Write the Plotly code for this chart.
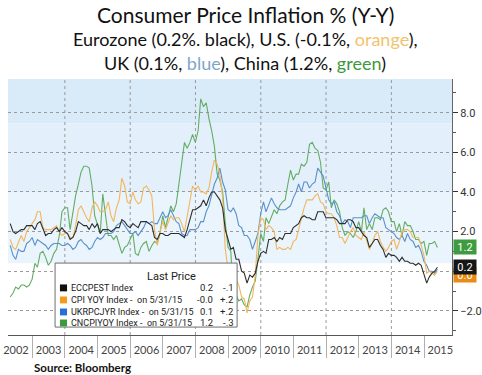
import pandas as pd
import plotly.graph_objects as go

# ---------------- data (monthly, Apr 2002 - May 2015) ----------------
start_month = "2002-04-30"
end_month = "2015-05-31"

eurozone = [2.4, 2.0, 1.9, 2.0, 2.1, 2.1, 2.3, 2.3, 2.3,
            2.1, 2.4, 2.5, 2.1, 1.8, 1.9, 1.9, 2.1, 2.2, 2.0, 2.2, 2.0,
            1.9, 1.6, 1.7, 2.0, 2.5, 2.4, 2.3, 2.3, 2.1, 2.4, 2.2, 2.4,
            1.9, 2.1, 2.1, 2.1, 2.0, 2.1, 2.2, 2.2, 2.6, 2.5, 2.3, 2.2,
            2.4, 2.3, 2.2, 2.5, 2.5, 2.5, 2.4, 2.3, 1.7, 1.6, 1.9, 1.9,
            1.8, 1.8, 1.9, 1.9, 1.9, 1.9, 1.8, 1.7, 2.1, 2.6, 3.1, 3.1,
            3.2, 3.3, 3.6, 3.3, 3.7, 4.0, 4.0, 3.8, 3.6, 3.2, 2.1, 1.6,
            1.1, 1.2, 0.6, 0.6, 0.0, -0.1, -0.6, -0.2, -0.3, -0.1, 0.5, 0.9,
            1.0, 0.9, 1.6, 1.6, 1.7, 1.5, 1.7, 1.6, 1.9, 1.9, 1.9, 2.2,
            2.3, 2.4, 2.7, 2.8, 2.7, 2.7, 2.6, 2.6, 3.0, 3.0, 3.0, 2.7,
            2.7, 2.7, 2.7, 2.6, 2.4, 2.4, 2.4, 2.6, 2.6, 2.5, 2.2, 2.2,
            2.0, 1.8, 1.7, 1.2, 1.4, 1.6, 1.6, 1.3, 1.1, 0.7, 0.9, 0.8,
            0.8, 0.7, 0.5, 0.7, 0.5, 0.5, 0.4, 0.4, 0.3, 0.4, 0.3, -0.2,
            -0.6, -0.3, -0.1, 0.0, 0.2]

us = [1.6, 1.2, 1.1, 1.5, 1.8, 1.5, 2.0, 2.2, 2.4,
      2.6, 3.0, 3.0, 2.2, 2.1, 2.1, 2.1, 2.2, 2.3, 2.0, 1.8, 1.9,
      1.9, 1.7, 1.7, 2.3, 3.1, 3.3, 3.0, 2.7, 2.5, 3.2, 3.5, 3.3,
      3.0, 3.0, 3.1, 3.5, 2.8, 2.5, 3.2, 3.6, 4.7, 4.3, 3.5, 3.4,
      4.0, 3.6, 3.4, 3.5, 4.2, 4.3, 4.1, 3.8, 2.1, 1.3, 2.0, 2.5,
      2.1, 2.4, 2.8, 2.6, 2.7, 2.7, 2.4, 2.0, 2.8, 3.5, 4.3, 4.1,
      4.3, 4.0, 4.0, 3.9, 4.2, 5.0, 5.6, 5.4, 4.9, 3.7, 1.1, 0.1,
      0.0, 0.2, -0.4, -0.7, -1.3, -1.4, -2.1, -1.5, -1.3, -0.2, 1.8, 2.7,
      2.6, 2.1, 2.3, 2.2, 2.0, 1.1, 1.2, 1.1, 1.1, 1.2, 1.1, 1.5,
      1.6, 2.1, 2.7, 3.2, 3.6, 3.6, 3.6, 3.8, 3.9, 3.5, 3.4, 3.0,
      2.9, 2.9, 2.7, 2.3, 1.7, 1.7, 1.4, 1.7, 2.0, 2.2, 1.8, 1.7,
      1.6, 2.0, 1.5, 1.1, 1.4, 1.8, 2.0, 1.5, 1.2, 1.0, 1.2, 1.5,
      1.6, 1.1, 1.5, 2.0, 2.1, 2.1, 2.0, 1.7, 1.7, 1.7, 1.3, 0.8,
      -0.1, 0.0, -0.1, -0.2, 0.0]

uk = [1.3, 0.8, 0.6, 1.1, 1.0, 1.0, 1.4, 1.5, 1.7,
      1.3, 1.6, 1.5, 1.4, 1.3, 1.1, 1.3, 1.4, 1.4, 1.4, 1.3, 1.3,
      1.4, 1.3, 1.1, 1.2, 1.5, 1.6, 1.4, 1.3, 1.1, 1.2, 1.5, 1.7,
      1.6, 1.7, 1.9, 1.9, 1.9, 2.0, 2.3, 2.4, 2.5, 2.3, 2.1, 1.9,
      1.9, 2.0, 1.8, 2.0, 2.2, 2.5, 2.4, 2.5, 2.4, 2.4, 2.7, 3.0,
      2.7, 2.8, 3.1, 2.8, 2.5, 2.4, 1.9, 1.8, 1.8, 2.1, 2.1, 2.1,
      2.2, 2.5, 2.5, 3.0, 3.3, 3.8, 4.4, 4.7, 5.2, 4.5, 4.1, 3.1,
      3.0, 3.2, 2.9, 2.3, 2.2, 1.8, 1.8, 1.6, 1.1, 1.5, 1.9, 2.9,
      3.5, 3.0, 3.4, 3.7, 3.4, 3.2, 3.1, 3.1, 3.1, 3.2, 3.3, 3.7,
      4.0, 4.4, 4.0, 4.5, 4.5, 4.2, 4.4, 4.5, 5.2, 5.0, 4.8, 4.2,
      3.6, 3.4, 3.5, 3.0, 2.8, 2.4, 2.6, 2.5, 2.2, 2.7, 2.7, 2.7,
      2.7, 2.8, 2.8, 2.4, 2.7, 2.9, 2.8, 2.7, 2.7, 2.2, 2.1, 2.0,
      1.9, 1.7, 1.6, 1.8, 1.5, 1.9, 1.6, 1.5, 1.2, 1.3, 1.0, 0.5,
      0.3, 0.0, 0.0, -0.1, 0.1]

china = [-1.3, -1.1, -0.8, -0.9, -0.7, -0.7, -0.8, -0.7, -0.4,
         0.4, 0.2, 0.9, 1.0, 0.7, 0.3, 0.5, 0.9, 1.1, 1.8, 3.0, 3.2,
         3.2, 2.1, 3.0, 3.8, 4.4, 5.0, 5.3, 5.3, 5.2, 4.3, 2.8, 2.4,
         1.9, 3.9, 2.7, 1.8, 1.8, 1.6, 1.8, 1.3, 0.9, 1.2, 1.3, 1.6,
         1.9, 0.9, 0.8, 1.2, 1.4, 1.5, 1.0, 1.3, 1.5, 1.4, 1.9, 2.8,
         2.2, 2.7, 3.3, 3.0, 3.4, 4.4, 5.6, 6.5, 6.2, 6.5, 6.9, 6.5,
         7.1, 8.7, 8.3, 8.5, 7.7, 7.1, 6.3, 4.9, 4.6, 4.0, 2.4, 1.2,
         1.0, -1.6, -1.2, -1.5, -1.4, -1.7, -1.8, -1.2, -0.8, -0.5, 0.6, 1.9,
         1.5, 2.7, 2.4, 2.8, 3.1, 2.9, 3.3, 3.5, 3.6, 4.4, 5.1, 4.6,
         4.9, 4.9, 5.4, 5.3, 5.5, 6.4, 6.5, 6.2, 6.1, 5.5, 4.2, 4.1,
         4.5, 3.2, 3.6, 3.4, 3.0, 2.2, 1.8, 2.0, 1.9, 1.7, 2.0, 2.5,
         2.0, 3.2, 2.1, 2.4, 2.1, 2.7, 2.7, 2.6, 3.1, 3.2, 3.0, 2.5,
         2.5, 2.0, 2.4, 1.8, 2.5, 2.3, 2.3, 2.0, 1.6, 1.6, 1.4, 1.5,
         0.8, 1.4, 1.4, 1.5, 1.2]

series_names = ["ECCPEST Index", "CPI YOY Index -&nbsp;&nbsp;on 5/31/15",
                "UKRPCJYR Index -&nbsp;&nbsp;on 5/31/15", "CNCPIYOY Index -&nbsp;&nbsp;on 5/31/15"]
legend_last = ["0.2", "-0.0", "0.1", "1.2"]
legend_change = ["-.1", "+.2", "+.2", "-.3"]
tag_labels = ["0.2", "0.0", "0.1", "1.2"]
y_ticks = [-2, 0, 2, 4, 6, 8]
grid_years = ["2004-01-01", "2006-01-01", "2008-01-01", "2010-01-01",
              "2012-01-01", "2014-01-01"]

# ---------------- styles ----------------
line_colors = ["#2e2e2e", "#f3b65c", "#5a8fcb", "#63ad62"]
key_colors = ["#111111", "#f39a1f", "#2a6fd6", "#3e9a3e"]
tag_colors = ["#161616", "#e98a12", None, "#3f9b3f"]
title_font = "Lato, Carlito, Calibri, sans-serif"
narrow_font = "Liberation Sans Narrow, Arial Narrow, Roboto, sans-serif"

dates = pd.date_range(start_month, end_month, freq="ME")
all_series = [eurozone, us, uk, china]

fig = go.Figure()
# draw order: green, blue, orange, black on top
for idx in [3, 2, 1, 0]:
    fig.add_trace(go.Scatter(x=dates, y=all_series[idx], mode="lines",
                             line=dict(color=line_colors[idx], width=1.1),
                             name=series_names[idx], showlegend=False,
                             hoverinfo="skip"))

shapes = []
# background shading (Bloomberg style)
shapes.append(dict(type="rect", xref="x domain", yref="y", x0=0, x1=1, y0=7.45, y1=9.7,
                   fillcolor="#d9eaf9", line_width=0, layer="below"))
shapes.append(dict(type="rect", xref="x domain", yref="y", x0=0, x1=1, y0=4.0, y1=7.45,
                   fillcolor="#e3f0fb", line_width=0, layer="below"))
shapes.append(dict(type="rect", xref="x domain", yref="y", x0=0, x1=1, y0=0.4, y1=4.0,
                   fillcolor="#e9f4fd", line_width=0, layer="below"))
# vertical dotted gridlines every two years
for gy in grid_years:
    shapes.append(dict(type="line", xref="x", yref="y domain", x0=gy, x1=gy, y0=0, y1=1,
                       line=dict(color="#9a9a9a", width=1, dash="dot"), layer="below"))

# legend box
lx0, lx1, ly0, ly1 = 0.106, 0.516, 0.031, 0.281
shapes.append(dict(type="rect", xref="paper", yref="paper", x0=lx0, x1=lx1, y0=ly0, y1=ly1,
                   fillcolor="white", line=dict(color="#6f6f6f", width=1), layer="above"))
row_y = [0.184, 0.137, 0.090, 0.047]
for i, ry in enumerate(row_y):
    shapes.append(dict(type="rect", xref="paper", yref="paper",
                       x0=0.117, x1=0.133, y0=ry - 0.0135, y1=ry + 0.0135,
                       fillcolor=key_colors[i], line_width=0, layer="above"))

annotations = []
annotations.append(dict(text="Last Price", xref="paper", yref="paper", x=0.309, y=0.229,
                        yanchor="middle", showarrow=False,
                        font=dict(family=narrow_font, size=11, color="#222")))
for i, ry in enumerate(row_y):
    annotations.append(dict(text=series_names[i], xref="paper", yref="paper", x=0.137, y=ry,
                            xanchor="left", yanchor="middle", showarrow=False,
                            font=dict(family=narrow_font, size=9, color="#222")))
    annotations.append(dict(text=legend_last[i], xref="paper", yref="paper", x=0.466, y=ry,
                            xanchor="right", yanchor="middle", showarrow=False,
                            font=dict(family=narrow_font, size=9.5, color="#222")))
    annotations.append(dict(text=legend_change[i], xref="paper", yref="paper", x=0.511, y=ry,
                            xanchor="right", yanchor="middle", showarrow=False,
                            font=dict(family=narrow_font, size=9.5, color="#222")))

# last value tags on the right axis (orange first so black covers it)
for i, shift in [(1, -4), (0, 0), (3, 0)]:
    annotations.append(dict(text=tag_labels[i], xref="paper", yref="y", x=1.0, y=all_series[i][-1],
                            xanchor="left", yanchor="middle", xshift=1, yshift=shift,
                            showarrow=False,
                            bgcolor=tag_colors[i], width=20, height=12, borderpad=1,
                            font=dict(family=narrow_font, size=11, color="white")))

# titles
annotations.append(dict(text="Consumer Price Inflation % (Y-Y)", xref="paper", yref="paper",
                        x=0.534, y=1.252, yanchor="middle", showarrow=False,
                        font=dict(family=title_font, size=21, color="#111")))
annotations.append(dict(text="Eurozone (0.2%. black), U.S. (-0.1%, "
                             "<span style='color:#f2c36b'>orange</span>),",
                        xref="paper", yref="paper", x=0.534, y=1.155, yanchor="middle",
                        showarrow=False,
                        font=dict(family=title_font, size=18, color="#111")))
annotations.append(dict(text="UK (0.1%, <span style='color:#7fa6c8'>blue</span>), China (1.2%, "
                             "<span style='color:#3d993d'>green</span>)",
                        xref="paper", yref="paper", x=0.534, y=1.064, yanchor="middle",
                        showarrow=False,
                        font=dict(family=title_font, size=18, color="#111")))
annotations.append(dict(text="<b>Source: Bloomberg</b>", xref="paper", yref="paper",
                        x=0.054, y=-0.125, xanchor="left", yanchor="middle", showarrow=False,
                        font=dict(family=title_font, size=11.5, color="#111")))

fig.update_layout(
    width=482, height=375,
    margin=dict(l=8, r=30, t=79, b=40, autoexpand=False),
    paper_bgcolor="white", plot_bgcolor="white",
    shapes=shapes, annotations=annotations,
    showlegend=False,
    xaxis=dict(type="date", range=["2002-04-05", "2015-11-10"],
               dtick="M12", tick0="2002-01-01", tickformat="%Y",
               ticklabelmode="period", ticks="outside", ticklen=22,
               tickcolor="#b0b0b0", ticklabelstandoff=-17, automargin=False,
               showline=True, linecolor="#555", linewidth=1,
               showgrid=False, zeroline=False,
               tickfont=dict(family=title_font, size=11, color="#444")),
    yaxis=dict(side="right", range=[-3.22, 9.7], tickvals=y_ticks, automargin=False,
               tickformat=".1f", ticks="outside", ticklen=5, tickcolor="#333",
               minor=dict(dtick=1, ticks="outside", ticklen=3, tickcolor="#555", showgrid=False),
               showline=True, linecolor="#666", linewidth=1,
               showgrid=True, gridcolor="#9a9a9a", griddash="dot", gridwidth=1,
               zeroline=False,
               tickfont=dict(family=narrow_font, size=11, color="#333")),
)

fig.write_html("out.html", config={"displayModeBar": False},
               post_script="document.body.style.margin='0';document.body.style.overflow='hidden';")
